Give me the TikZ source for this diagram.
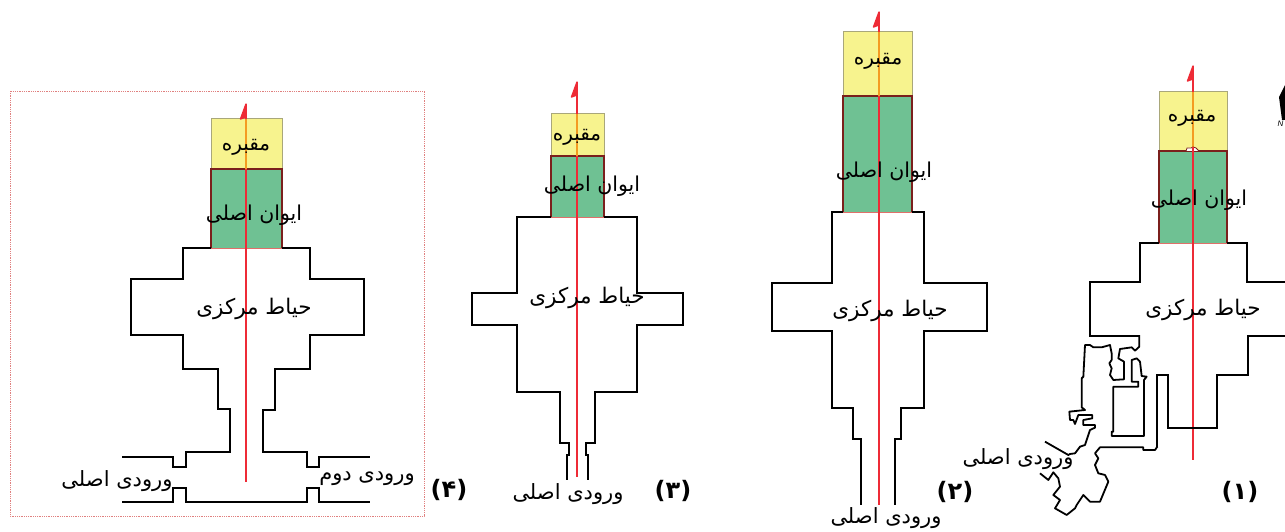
\documentclass[tikz,border=0pt]{standalone}
\usepackage{fontspec}
\TeXXeTstate=1
\newfontfamily\arabicfont[Script=Arabic]{DejaVu Sans}
\newfontfamily\arabicbold[Script=Arabic]{DejaVu Sans Bold}
\setmainfont{Liberation Sans}
\definecolor{yel}{HTML}{F7F38E}
\definecolor{yeledge}{HTML}{A9A77A}
\definecolor{grn}{HTML}{6FC193}
\definecolor{grnedge}{HTML}{7B1F1C}
\definecolor{grnbase}{HTML}{E0706A}
\definecolor{axisred}{HTML}{EE2B36}
\definecolor{axisorange}{HTML}{F49B22}
\definecolor{framered}{HTML}{E0807F}
\tikzset{
  wall/.style={draw=black,line width=2.2pt,line join=miter},
  thin wall/.style={draw=black,line width=1.8pt,line join=round},
  axis line/.style={draw=axisred,line width=2.1pt},
  axis over/.style={draw=axisorange,line width=2.1pt},
  north tip/.style={draw=axisred,fill=axisred,line width=1.4pt,line join=round},
  tomb/.style={fill=yel,draw=yeledge,line width=1pt},
  hall/.style={fill=grn,draw=none},
  hall edge/.style={draw=grnedge,line width=1.5pt},
  hall base/.style={draw=grnbase,line width=1pt},
  fa/.style={font=\arabicfont\fontsize{21.5}{24}\selectfont,inner sep=0pt,text=black},
  fa tomb/.style={font=\arabicfont\fontsize{20}{24}\selectfont,inner sep=0pt,text=black},
  fa hall/.style={font=\arabicfont\fontsize{20.5}{24}\selectfont,inner sep=0pt,text=black},
  fa small/.style={font=\arabicfont\fontsize{21}{24}\selectfont,inner sep=0pt,text=black},
  num/.style={font=\arabicbold\fontsize{24}{27}\selectfont,inner sep=0pt,text=black},
  frame box/.style={draw=framered,line width=.8pt,densely dotted}
}
\newcommand{\fatxt}[1]{\beginR #1\endR}
\newcommand{\tombhall}[8]{%
  \draw[tomb] (#1,#3) rectangle (#2,#4);
  \fill[hall] (#1,#4) rectangle (#2,#5);
  \draw[hall base] (#1,#5) -- (#2,#5);
  \draw[hall edge] (#1,#5) -- (#1,#4) -- (#2,#4) -- (#2,#5);
  \draw[axis line] (#6,#4) -- (#6,#8);
  \draw[axis over] (#6,#3) -- (#6,#4);
  \draw[axis line] (#6,#7) -- (#6,#3);
  \draw[north tip] (#6,#7) -- (#6-5.5,#7+15) -- (#6,#7+13) -- cycle;
}
\begin{document}
\begin{tikzpicture}[x=1pt,y=-1pt]
\useasboundingbox (0,0) rectangle (1285,532);
\fill[white] (0,0) rectangle (1285,532);

% ---- (4)
\draw[frame box] (10,91) rectangle (424,516);
\tombhall{211}{282}{119}{169}{248}{246}{104}{482}
\draw[wall] (211,248) -| (183,279) -| (131,335) -| (183,369) -| (218,409) -| (230,452) -| (186,467) -| (173,457) -- (122,457);
\draw[wall] (282,248) -| (310,279) -| (364,335) -| (310,369) -| (275,410) -| (263,452) -| (307,467) -| (319,457) -- (370,457);
\draw[wall] (122,502) -| (173,488) -| (186,502) -| (307,488) -| (319,502) -- (370,502);
\node[fa tomb] (t4a) at (246,147) {\fatxt{مقبره}};
\node[fa hall] (t4b) at (254,215) {\fatxt{ایوان اصلی}};
\node[fa] (t4c) at (254,309) {\fatxt{حیاط مرکزی}};
\node[fa small] (t4d) at (117,481) {\fatxt{ورودی اصلی}};
\node[fa small] (t4e) at (367,479) {\fatxt{ورودی دوم}};
\node[num] (n4) at (449,490) {(۴)};

% ---- (3)
\tombhall{551}{604}{114}{156}{217}{577}{82}{477}
\draw[wall] (551,217) -| (517,293) -| (472,325) -| (517,392) -| (560,443) -| (569,455) -| (567,480);
\draw[wall] (604,217) -| (637,293) -| (683,325) -| (637,392) -| (595,443) -| (586,455) -| (588,480);
\node[fa tomb] (t3a) at (577,137) {\fatxt{مقبره}};
\node[fa hall] (t3b) at (592,186) {\fatxt{ایوان اصلی}};
\node[fa] (t3c) at (587,298) {\fatxt{حیاط مرکزی}};
\node[fa small] (t3d) at (568,494) {\fatxt{ورودی اصلی}};
\node[num] (n3) at (673,491) {(۳)};

% ---- (2)
\tombhall{843}{912}{32}{96}{212}{879}{12}{505}
\draw[wall] (843,212) -| (832,283) -| (772,331) -| (832,408) -| (853,439) -| (861,505);
\draw[wall] (912,212) -| (924,283) -| (987,331) -| (924,408) -| (901,439) -| (895,505);
\node[fa tomb] (t2a) at (878,61) {\fatxt{مقبره}};
\node[fa hall] (t2b) at (884,172) {\fatxt{ایوان اصلی}};
\node[fa] (t2c) at (890,311) {\fatxt{حیاط مرکزی}};
\node[fa small] (t2d) at (886,518) {\fatxt{ورودی اصلی}};
\node[num] (n2) at (955,492) {(۲)};

% ---- (1)
\tombhall{1159}{1227}{92}{151}{243}{1193}{66}{460}
\draw[draw=grnedge,fill=white,line width=.8pt] (1186,151) -- (1187,148) -- (1191,148) -- (1193,147) -- (1196,148) -- (1199,151);
\draw[axis line] (1193,147) -- (1193,152);
\draw[wall] (1159,243) -| (1140,282) -| (1090,336) -- (1139,336);
\draw[wall] (1227,243) -| (1247,282) -- (1286,282);
\draw[wall] (1286,336) -| (1248,375) -| (1217,428) -| (1168,375) -| (1157,447);
\begin{scope}[shift={(1040,330)},x=0.3333pt,y=-0.3333pt]
\draw[thin wall] (298,15) -- (298,50) -- (285,62) -- (275,52) -- (240,57) -- (235,85) -- (252,95) -- (252,148) -- (220,150) -- (210,135) -- (215,115) -- (208,100) -- (215,90) -- (215,70) -- (210,45) -- (185,52) -- (160,52) -- (150,45) -- (135,45) -- (130,140) -- (125,145) -- (125,232) -- (135,240) -- (88,245) -- (90,270) -- (100,270) -- (105,282) -- (115,255) -- (157,255) -- (157,265) -- (130,270) -- (130,285) -- (165,285) -- (165,293) -- (150,300) -- (135,345) -- (120,350) -- (105,370) -- (90,372) -- (85,375) -- (15,335);
\draw[thin wall] (0,430) -- (25,450) -- (40,427) -- (55,445) -- (60,470) -- (40,495) -- (60,510) -- (45,535) -- (80,555) -- (105,535) -- (110,525) -- (130,495) -- (150,515) -- (180,515) -- (205,455) -- (195,435) -- (175,430) -- (165,405) -- (175,385) -- (165,370) -- (180,352) -- (310,352) -- (310,360) -- (345,360) -- (352,350);
\draw[thin wall] (220,170) -- (295,170) -- (295,155) -- (275,155) -- (275,90) -- (290,85) -- (300,95) -- (305,138) -- (320,140) -- (312,150) -- (312,318) -- (215,318) -- (215,305) -- (220,305) -- cycle;
\end{scope}
\node[fa tomb] (t1a) at (1192,118) {\fatxt{مقبره}};
\node[fa hall] (t1b) at (1199,200) {\fatxt{ایوان اصلی}};
\node[fa] (t1c) at (1203,310) {\fatxt{حیاط مرکزی}};
\node[fa small] (t1d) at (1018,459) {\fatxt{ورودی اصلی}};
\node[num] (n1) at (1240,492) {(۱)};

% north mark
\fill[black] (1285,85) -- (1279,97) -- (1282,120) -- (1285,120) -- cycle;
\node[font=\itshape\fontsize{8}{9}\selectfont,inner sep=0pt] (northn) at (1280.5,124) {N};
\end{tikzpicture}
\end{document}
